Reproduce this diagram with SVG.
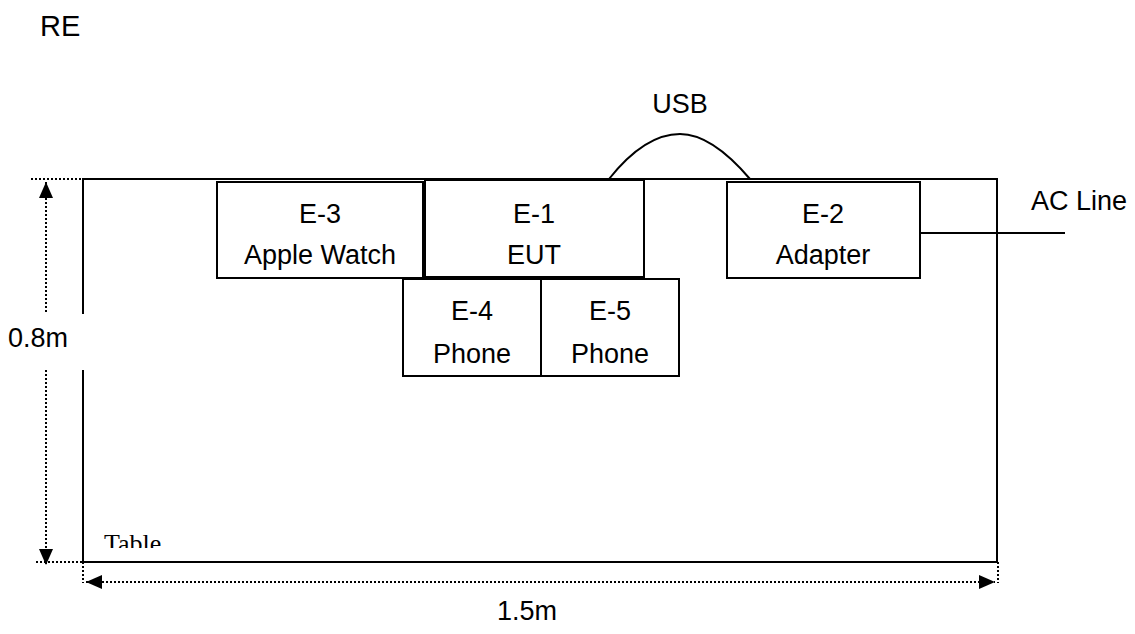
<svg xmlns="http://www.w3.org/2000/svg" width="1135" height="634" viewBox="0 0 1135 634">
<defs>
<style>
.box{fill:#fff;stroke:#000;stroke-width:2}
.t{font-family:"Liberation Sans",Arial,sans-serif;font-size:27px;fill:#000}
.c{text-anchor:middle}
.dot{stroke:#000;stroke-width:2;stroke-dasharray:2 2;fill:none}
.ln{stroke:#000;stroke-width:2;fill:none}
</style>
<marker id="ah" viewBox="0 0 16 14" refX="16" refY="7" markerWidth="16" markerHeight="14" markerUnits="userSpaceOnUse" orient="auto-start-reverse">
<path d="M0,0 L16,7 L0,14 z" fill="#000"/>
</marker>
<clipPath id="tclip"><rect x="83" y="500" width="200" height="48"/></clipPath>
</defs>
<rect width="1135" height="634" fill="#fff"/>
<text class="t" x="40" y="36" style="font-size:29px">RE</text>
<g id="table">
<rect x="83" y="179" width="914" height="383" fill="none" stroke="#000" stroke-width="2"/>
<text x="104" y="552" clip-path="url(#tclip)" style="font-family:'Liberation Serif','Times New Roman',serif;font-size:26px">Table</text>
</g>
<g id="connectors">
<path class="ln" d="M609,179 C632,150 656,134 680,134 C704,134 727,152 750,179"/>
<line class="ln" x1="920" y1="233" x2="1065" y2="233"/>
<line class="dot" x1="31" y1="179" x2="83" y2="179"/>
<line class="dot" x1="36" y1="562" x2="83" y2="562"/>
<line class="dot" x1="83" y1="562" x2="83" y2="583"/>
<line class="dot" x1="998" y1="562" x2="998" y2="583"/>
<line class="dot" x1="46" y1="182" x2="46" y2="565" marker-start="url(#ah)" marker-end="url(#ah)"/>
<line class="dot" x1="86" y1="582" x2="995" y2="582" marker-start="url(#ah)" marker-end="url(#ah)"/>
</g>
<g id="labels">
<rect x="0" y="314" width="89" height="56" fill="#fff"/>
<text class="t" x="8" y="347">0.8m</text>
<text class="t c" x="527" y="620">1.5m</text>
<text class="t c" x="680" y="113">USB</text>
<text class="t" x="1031" y="210">AC Line</text>
</g>
<g id="E-3">
<rect class="box" x="217" y="182" width="206" height="96"/>
<text class="t c" x="320" y="223">E-3</text>
<text class="t c" x="320" y="264">Apple Watch</text>
</g>
<g id="E-1">
<rect class="box" x="425" y="180" width="219" height="97"/>
<text class="t c" x="534" y="223">E-1</text>
<text class="t c" x="534" y="264">EUT</text>
</g>
<g id="E-2">
<rect class="box" x="727" y="182" width="193" height="96"/>
<text class="t c" x="823" y="223">E-2</text>
<text class="t c" x="823" y="264">Adapter</text>
</g>
<g id="E-4">
<rect class="box" x="403" y="279" width="138" height="97"/>
<text class="t c" x="472" y="320">E-4</text>
<text class="t c" x="472" y="363">Phone</text>
</g>
<g id="E-5">
<rect class="box" x="541" y="279" width="138" height="97"/>
<text class="t c" x="610" y="320">E-5</text>
<text class="t c" x="610" y="363">Phone</text>
</g>
</svg>
